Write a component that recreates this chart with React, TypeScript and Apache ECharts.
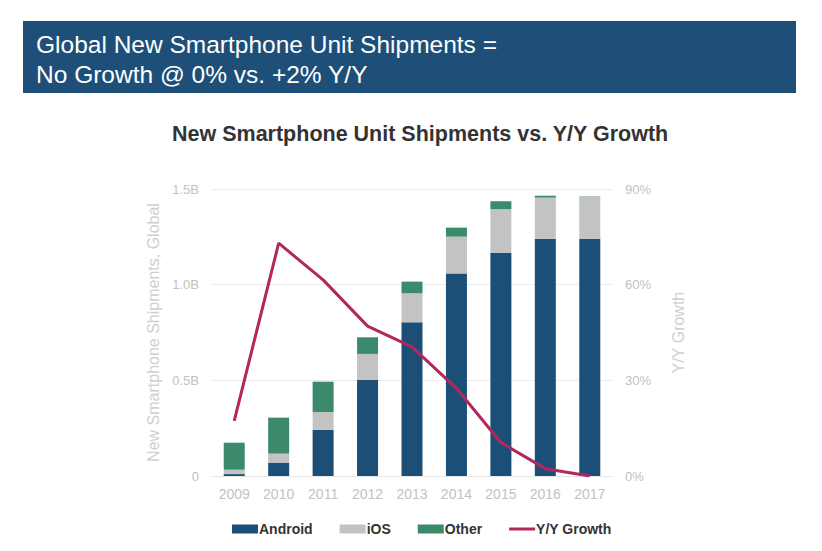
import React, { useEffect, useRef } from "react";
import * as echarts from "echarts";

const years = ["2009", "2010", "2011", "2012", "2013", "2014", "2015", "2016", "2017"];
const android = [0.01, 0.07, 0.242, 0.503, 0.803, 1.059, 1.166, 1.24, 1.24];
const ios = [0.023, 0.047, 0.092, 0.135, 0.152, 0.192, 0.229, 0.215, 0.22];
const other = [0.141, 0.188, 0.159, 0.087, 0.061, 0.047, 0.041, 0.01, 0.002];
const growth = [17.3, 73.0, 61.5, 47.0, 40.5, 27.5, 10.5, 2.3, 0];

const headerLines = ["Global New Smartphone Unit Shipments =", "No Growth @ 0% vs. +2% Y/Y"];
const chartTitle = "New Smartphone Unit Shipments vs. Y/Y Growth";

const FONT = "'Liberation Sans', Arial, Helvetica, sans-serif";

export default function App() {
  const ref = useRef<HTMLDivElement>(null);
  useEffect(() => {
    if (!ref.current) return;
    const chart = echarts.init(ref.current, undefined, { renderer: "svg" });
    chart.setOption({
      animation: false,
      backgroundColor: "#ffffff",
      textStyle: { fontFamily: FONT },
      title: {
        text: chartTitle,
        left: 167,
        top: 118,
        textStyle: { fontSize: 21.5, fontWeight: "bold", color: "#333333", fontFamily: FONT },
      },
      graphic: [
        {
          type: "rect",
          shape: { x: 23, y: 21, width: 773, height: 72 },
          style: { fill: "#1d4f78" },
          silent: true,
        },
        {
          type: "text",
          x: 36,
          y: 44,
          style: {
            text: headerLines[0],
            fill: "#ffffff",
            fontSize: 24.5,
            fontFamily: FONT,
            textVerticalAlign: "middle",
          },
        },
        {
          type: "text",
          x: 36,
          y: 74,
          style: {
            text: headerLines[1],
            fill: "#ffffff",
            fontSize: 24.5,
            fontFamily: FONT,
            textVerticalAlign: "middle",
          },
        },
      ],
      legend: {
        left: 227,
        top: 517,
        itemWidth: 26,
        itemHeight: 9,
        itemGap: 27,
        symbolKeepAspect: true,
        textStyle: { fontSize: 14, fontWeight: "bold", color: "#333333", fontFamily: FONT, padding: [0, 0, 0, -4] },
        data: [
          { name: "Android", icon: "rect" },
          { name: "iOS", icon: "rect" },
          { name: "Other", icon: "rect" },
          { name: "Y/Y Growth", icon: "path://M0,0 L26,0 L26,3 L0,3 Z", itemStyle: { color: "#b2285c" } },
        ],
      },
      grid: { left: 212, right: 210, top: 189, bottom: 75 },
      xAxis: {
        type: "category",
        data: years,
        axisLine: { show: true, lineStyle: { color: "#e6e6e6" } },
        axisTick: { show: false },
        axisLabel: { color: "#c2c2c2", fontSize: 14, margin: 11, fontFamily: FONT },
      },
      yAxis: [
        {
          type: "value",
          min: 0,
          max: 1.5,
          interval: 0.5,
          name: "New Smartphone Shipments, Global",
          nameLocation: "middle",
          nameGap: 51,
          nameRotate: 90,
          nameTextStyle: { color: "#cfcfcf", fontSize: 16, fontFamily: FONT },
          axisLine: { show: false },
          axisTick: { show: false },
          axisLabel: {
            color: "#c2c2c2",
            fontSize: 13,
            margin: 13,
            fontFamily: FONT,
            formatter: (v: number) => (v === 0 ? "0" : v.toFixed(1) + "B"),
          },
          splitLine: { lineStyle: { color: "#ececec" } },
        },
        {
          type: "value",
          min: 0,
          max: 90,
          interval: 30,
          name: "Y/Y Growth",
          nameLocation: "middle",
          nameGap: 58,
          nameRotate: 90,
          nameTextStyle: { color: "#cfcfcf", fontSize: 16, fontFamily: FONT },
          axisLine: { show: false },
          axisTick: { show: false },
          axisLabel: { color: "#c2c2c2", fontSize: 13, margin: 13, fontFamily: FONT, formatter: "{value}%" },
          splitLine: { show: false },
        },
      ],
      series: [
        {
          name: "Android",
          type: "bar",
          stack: "total",
          barWidth: 21,
          itemStyle: { color: "#1c4f78" },
          data: android,
        },
        {
          name: "iOS",
          type: "bar",
          stack: "total",
          barWidth: 21,
          itemStyle: { color: "#c3c3c3" },
          data: ios,
        },
        {
          name: "Other",
          type: "bar",
          stack: "total",
          barWidth: 21,
          itemStyle: { color: "#3b8a6c" },
          data: other,
        },
        {
          name: "Y/Y Growth",
          type: "line",
          yAxisIndex: 1,
          symbol: "none",
          lineStyle: { color: "#b2285c", width: 3 },
          itemStyle: { color: "#b2285c" },
          data: growth,
          z: 5,
        },
      ],
    });
    return () => chart.dispose();
  }, []);
  return (
    <div
      ref={ref}
      style={{ position: "fixed", left: 0, top: 0, width: 822, height: 551 }}
    />
  );
}
